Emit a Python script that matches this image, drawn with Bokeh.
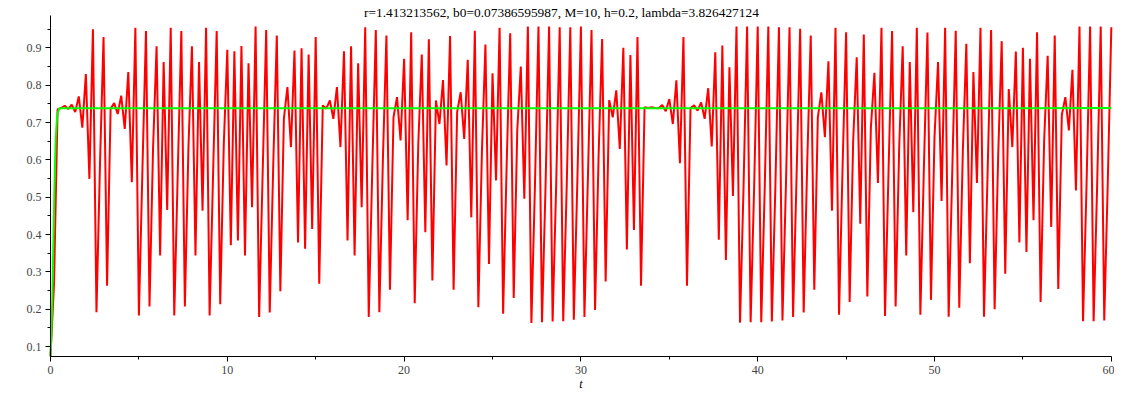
from bokeh.plotting import figure
from bokeh.models import FixedTicker, Range1d, Label
from bokeh.embed import file_html
from bokeh.resources import INLINE

TITLE = "r=1.413213562, b0=0.07386595987, M=10, h=0.2, lambda=3.826427124"
STEP = 0.2

# red series, one value per step of h=0.2 (t = 0 .. 60)
red_t00 = [0.074, 0.268, 0.735, 0.739, 0.745, 0.736, 0.748, 0.728, 0.770, 0.686,
           0.830, 0.549, 0.950, 0.192, 0.590, 0.929, 0.263, 0.737, 0.752, 0.723,
           0.772, 0.683, 0.835, 0.540, 0.954, 0.183, 0.575, 0.945, 0.207, 0.630,
           0.904, 0.344, 0.862, 0.466, 0.954, 0.183, 0.570, 0.945, 0.207, 0.630,
           0.904, 0.344, 0.862, 0.464, 0.954, 0.183, 0.570, 0.945, 0.213, 0.640]
red_t10 = [0.895, 0.371, 0.891, 0.384, 0.905, 0.344, 0.859, 0.473, 0.957, 0.179,
           0.565, 0.948, 0.191, 0.590, 0.933, 0.248, 0.710, 0.795, 0.634, 0.893,
           0.379, 0.899, 0.362, 0.882, 0.415, 0.929, 0.268, 0.746, 0.737, 0.759,
           0.710, 0.795, 0.634, 0.891, 0.384, 0.904, 0.344, 0.859, 0.473, 0.955,
           0.179, 0.575, 0.948, 0.192, 0.600, 0.933, 0.252, 0.714, 0.768, 0.652]
red_t20 = [0.871, 0.438, 0.942, 0.216, 0.640, 0.882, 0.406, 0.923, 0.277, 0.759,
           0.696, 0.814, 0.585, 0.932, 0.252, 0.728, 0.781, 0.656, 0.868, 0.446,
           0.946, 0.205, 0.620, 0.909, 0.321, 0.832, 0.545, 0.954, 0.188, 0.585,
           0.939, 0.230, 0.679, 0.850, 0.496, 0.957, 0.163, 0.530, 0.957, 0.165,
           0.530, 0.957, 0.167, 0.530, 0.955, 0.168, 0.535, 0.955, 0.172, 0.545]
red_t30 = [0.957, 0.179, 0.560, 0.948, 0.198, 0.610, 0.924, 0.274, 0.760, 0.714,
           0.786, 0.629, 0.900, 0.360, 0.881, 0.412, 0.929, 0.263, 0.741, 0.739,
           0.741, 0.739, 0.738, 0.747, 0.730, 0.763, 0.696, 0.813, 0.591, 0.929,
           0.263, 0.739, 0.746, 0.732, 0.754, 0.710, 0.792, 0.636, 0.888, 0.386,
           0.906, 0.332, 0.848, 0.503, 0.957, 0.164, 0.530, 0.957, 0.165, 0.530]
red_t40 = [0.957, 0.165, 0.530, 0.957, 0.167, 0.530, 0.955, 0.170, 0.540, 0.955,
           0.179, 0.560, 0.951, 0.191, 0.590, 0.933, 0.252, 0.714, 0.781, 0.661,
           0.864, 0.464, 0.954, 0.185, 0.580, 0.942, 0.219, 0.652, 0.875, 0.429,
           0.936, 0.234, 0.685, 0.833, 0.538, 0.954, 0.182, 0.570, 0.945, 0.207,
           0.630, 0.904, 0.344, 0.862, 0.460, 0.954, 0.185, 0.580, 0.941, 0.225]
red_t50 = [0.661, 0.862, 0.490, 0.954, 0.180, 0.560, 0.946, 0.204, 0.620, 0.911,
           0.323, 0.835, 0.538, 0.954, 0.180, 0.560, 0.948, 0.200, 0.610, 0.918,
           0.295, 0.790, 0.634, 0.890, 0.379, 0.900, 0.353, 0.871, 0.438, 0.942,
           0.219, 0.650, 0.879, 0.420, 0.933, 0.254, 0.720, 0.768, 0.679, 0.841,
           0.518, 0.957, 0.168, 0.535, 0.957, 0.168, 0.535, 0.957, 0.170, 0.540,
           0.955]

# green series
green_t = [0.0, 0.05, 0.1, 0.15, 0.2, 0.25, 0.3, 0.35, 0.4, 0.5, 60.0]
green_v = [0.074, 0.13, 0.22, 0.35, 0.47, 0.58, 0.66, 0.70, 0.725, 0.738, 0.7386]

red_v = red_t00 + red_t10 + red_t20 + red_t30 + red_t40 + red_t50
red_t = [round(i * STEP, 1) for i in range(len(red_v))]

x_major = [0, 10, 20, 30, 40, 50, 60]
x_minor = [5, 15, 25, 35, 45, 55]
y_major = [0.1, 0.2, 0.3, 0.4, 0.5, 0.6, 0.7, 0.8, 0.9]
y_minor = [0.15, 0.25, 0.35, 0.45, 0.55, 0.65, 0.75, 0.85, 0.95]

FONT = "Liberation Serif"
T_LO, T_HI = 0, 60                    # extent of the drawn time axis
AXIS_LO, AXIS_HI = 0.0732, 0.987      # extent of the drawn value axis
X0, X1 = -2.828, 60.18                # frame range (room for texts)
Y0, Y1 = -0.0205, 1.0269

p = figure(width=1114, height=391, x_range=Range1d(X0, X1),
           y_range=Range1d(Y0, Y1),
           output_backend="svg", toolbar_location=None,
           min_border_left=0, min_border_right=0, min_border_bottom=0,
           min_border_top=0)

p.line(red_t, red_v, line_color="#ff0000", line_width=2)
p.line(green_t, green_v, line_color="#00ff00", line_width=2)

p.outline_line_color = None
p.grid.grid_line_color = None

p.xaxis.ticker = FixedTicker(ticks=x_major, minor_ticks=x_minor)
p.yaxis.ticker = FixedTicker(ticks=y_major, minor_ticks=y_minor)
p.xaxis.fixed_location = AXIS_LO
p.yaxis.fixed_location = T_LO
p.xaxis.bounds = (T_LO, T_HI)
p.yaxis.bounds = (AXIS_LO, AXIS_HI)
for ax in (p.xaxis, p.yaxis):
    ax.major_label_text_font = FONT
    ax.major_label_text_font_size = "12px"
    ax.axis_line_color = "black"
    ax.major_tick_line_color = "black"
    ax.minor_tick_line_color = "black"
    ax.major_tick_out = 5
    ax.major_tick_in = 0
    ax.minor_tick_out = 3
    ax.minor_tick_in = 0
    ax.major_label_standoff = 4

p.add_layout(Label(x=28.9, y=0.9947, text=TITLE, text_font=FONT,
                   text_font_size="13.4px", text_align="center",
                   text_baseline="middle", text_color="black"))
p.add_layout(Label(x=30, y=-0.018, text="t", text_font=FONT,
                   text_font_size="12px", text_font_style="italic",
                   text_align="center", text_baseline="bottom",
                   text_color="black"))

open("out.html", "w").write(file_html(p, INLINE))
